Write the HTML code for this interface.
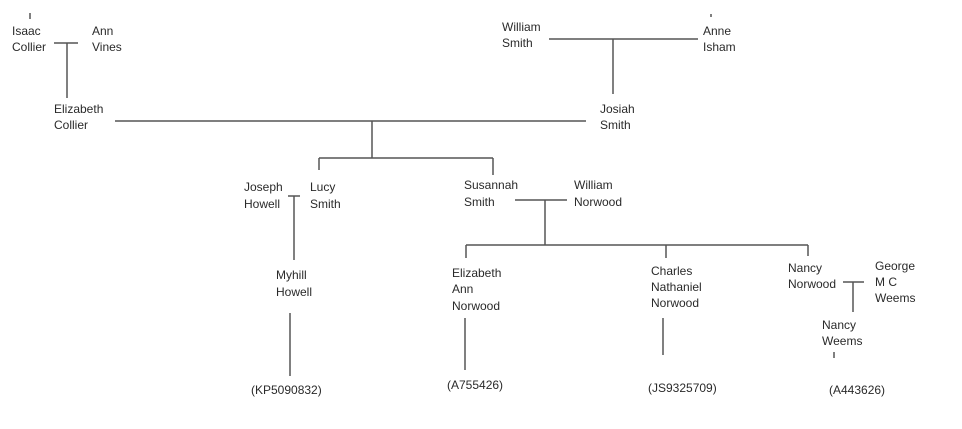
<!DOCTYPE html>
<html><head><meta charset="utf-8"><style>
html,body{margin:0;padding:0;background:#fff;width:962px;height:429px;overflow:hidden}
svg{display:block}
text{font-family:"Liberation Sans",sans-serif;font-size:12px;fill:#2a2a2a}
line{stroke:#555;stroke-width:1.5}
</style></head><body>
<svg width="962" height="429" viewBox="0 0 962 429">
<g>
<line x1="30" y1="13" x2="30" y2="19"/>
<line x1="54" y1="43" x2="78" y2="43"/>
<line x1="67" y1="43" x2="67" y2="98"/>
<line x1="115" y1="121" x2="586" y2="121"/>
<line x1="372" y1="121" x2="372" y2="158"/>
<line x1="319" y1="158" x2="493" y2="158"/>
<line x1="319" y1="158" x2="319" y2="170"/>
<line x1="493" y1="158" x2="493" y2="175"/>
<line x1="549" y1="39" x2="698" y2="39"/>
<line x1="613" y1="39" x2="613" y2="94"/>
<line x1="711" y1="14" x2="711" y2="17"/>
<line x1="288" y1="196" x2="300" y2="196"/>
<line x1="294" y1="196" x2="294" y2="260"/>
<line x1="515" y1="200" x2="567" y2="200"/>
<line x1="545" y1="200" x2="545" y2="245"/>
<line x1="466" y1="245" x2="808" y2="245"/>
<line x1="466" y1="245" x2="466" y2="258"/>
<line x1="666" y1="245" x2="666" y2="258"/>
<line x1="808" y1="245" x2="808" y2="256"/>
<line x1="290" y1="313" x2="290" y2="376"/>
<line x1="465" y1="318" x2="465" y2="370"/>
<line x1="663" y1="318" x2="663" y2="355"/>
<line x1="843" y1="282" x2="864" y2="282"/>
<line x1="853" y1="282" x2="853" y2="312"/>
<line x1="834" y1="352" x2="834" y2="358"/>
</g>
<text x="12" y="35">Isaac</text><text x="12" y="51">Collier</text>
<text x="92" y="35">Ann</text><text x="92" y="51">Vines</text>
<text x="54" y="113">Elizabeth</text><text x="54" y="129">Collier</text>
<text x="502" y="31">William</text><text x="502" y="47">Smith</text>
<text x="703" y="35">Anne</text><text x="703" y="51">Isham</text>
<text x="600" y="113">Josiah</text><text x="600" y="129">Smith</text>
<text x="244" y="191">Joseph</text><text x="244" y="208">Howell</text>
<text x="310" y="191">Lucy</text><text x="310" y="208">Smith</text>
<text x="464" y="189">Susannah</text><text x="464" y="206">Smith</text>
<text x="574" y="189">William</text><text x="574" y="206">Norwood</text>
<text x="276" y="279">Myhill</text><text x="276" y="296">Howell</text>
<text x="452" y="277">Elizabeth</text><text x="452" y="293">Ann</text><text x="452" y="310">Norwood</text>
<text x="651" y="275">Charles</text><text x="651" y="291">Nathaniel</text><text x="651" y="307">Norwood</text>
<text x="788" y="272">Nancy</text><text x="788" y="288">Norwood</text>
<text x="875" y="270">George</text><text x="875" y="286">M C</text><text x="875" y="302">Weems</text>
<text x="822" y="329">Nancy</text><text x="822" y="345">Weems</text>
<text x="251" y="394">(KP5090832)</text>
<text x="447" y="389">(A755426)</text>
<text x="648" y="392">(JS9325709)</text>
<text x="829" y="394">(A443626)</text>
</svg>
</body></html>
